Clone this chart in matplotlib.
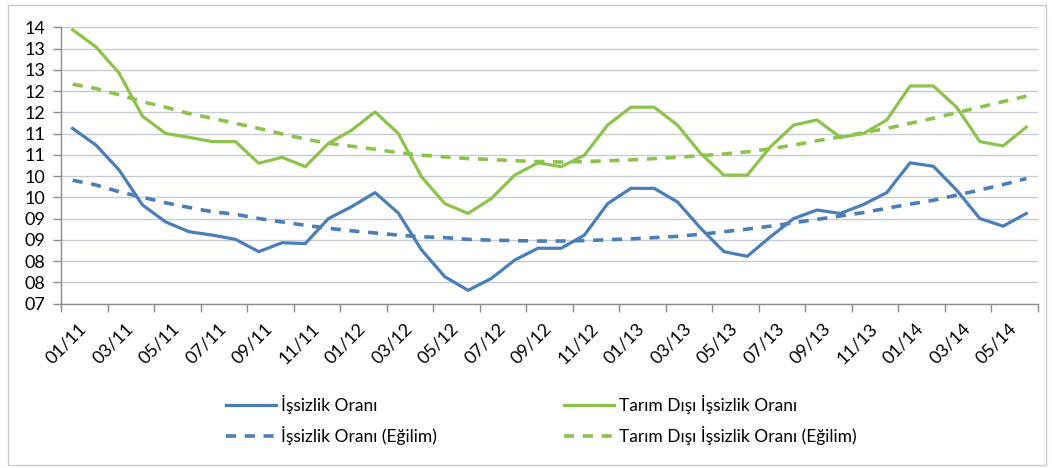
import matplotlib
matplotlib.use("Agg")
import matplotlib.pyplot as plt
from matplotlib.patches import Rectangle
from matplotlib.lines import Line2D

plt.rcParams['font.family'] = ['Lato', 'DejaVu Sans']

# aylar: 01/11 .. 06/14
months = ['01/11', '02/11', '03/11', '04/11', '05/11', '06/11', '07/11', '08/11', '09/11', '10/11', '11/11', '12/11',
          '01/12', '02/12', '03/12', '04/12', '05/12', '06/12', '07/12', '08/12', '09/12', '10/12', '11/12', '12/12',
          '01/13', '02/13', '03/13', '04/13', '05/13', '06/13', '07/13', '08/13', '09/13', '10/13', '11/13', '12/13',
          '01/14', '02/14', '03/14', '04/14', '05/14', '06/14']

issizlik = [11.12, 10.73, 10.14, 9.32, 8.92, 8.69, 8.61, 8.51, 8.22, 8.43, 8.41, 9.00,
            9.28, 9.61, 9.13, 8.26, 7.63, 7.31, 7.59, 8.02, 8.30, 8.30, 8.61, 9.35,
            9.71, 9.71, 9.39, 8.77, 8.22, 8.11, 8.57, 9.00, 9.20, 9.12, 9.33, 9.61,
            10.31, 10.23, 9.67, 9.00, 8.82, 9.12]

tarim_disi = [13.44, 13.04, 12.42, 11.41, 11.00, 10.91, 10.81, 10.81, 10.30, 10.44, 10.22, 10.77,
              11.08, 11.51, 11.00, 9.98, 9.35, 9.12, 9.47, 10.02, 10.31, 10.22, 10.49, 11.20,
              11.62, 11.62, 11.20, 10.53, 10.02, 10.02, 10.69, 11.20, 11.32, 10.91, 11.00, 11.32,
              12.12, 12.12, 11.62, 10.81, 10.71, 11.15]

issizlik_egilim = [9.90, 9.79, 9.63, 9.50, 9.37, 9.26, 9.16, 9.10, 9.00, 8.92, 8.84, 8.77,
                   8.71, 8.66, 8.61, 8.57, 8.55, 8.51, 8.49, 8.48, 8.47, 8.47, 8.48, 8.50,
                   8.52, 8.55, 8.58, 8.63, 8.69, 8.75, 8.82, 8.90, 8.98, 9.06, 9.14, 9.24,
                   9.34, 9.43, 9.55, 9.67, 9.80, 9.94]

tarim_disi_egilim = [12.16, 12.06, 11.91, 11.75, 11.62, 11.47, 11.36, 11.24, 11.12, 10.99, 10.87, 10.77,
                     10.70, 10.63, 10.55, 10.49, 10.45, 10.41, 10.39, 10.36, 10.34, 10.33, 10.34, 10.36,
                     10.38, 10.41, 10.44, 10.48, 10.52, 10.57, 10.64, 10.73, 10.83, 10.92, 11.02, 11.12,
                     11.24, 11.36, 11.49, 11.62, 11.75, 11.88]

yticks = [7.0, 7.5, 8.0, 8.5, 9.0, 9.5, 10.0, 10.5, 11.0, 11.5, 12.0, 12.5, 13.0, 13.5]
ytick_labels = ['07', '08', '08', '09', '09', '10', '10', '11', '11', '12', '12', '13', '13', '14']

mavi = '#4a7ebb'
yesil = '#8cc34b'

fig = plt.figure(figsize=(10.52, 4.68), dpi=100)
ax = fig.add_axes([61/1052, 1 - 303.5/468, (1038-61)/1052, (303.5-27.3)/468])

x = list(range(len(months)))
ax.plot(x, issizlik, color=mavi, lw=2.3, solid_joinstyle='round', zorder=4)
ax.plot(x, tarim_disi, color=yesil, lw=2.3, solid_joinstyle='round', zorder=4)
ax.plot(x, issizlik_egilim, color=mavi, lw=2.6, dashes=(2.8, 2.4), zorder=3)
ax.plot(x, tarim_disi_egilim, color=yesil, lw=2.6, dashes=(2.8, 2.4), zorder=3)

ax.set_xlim(-0.5, len(months) - 0.5)
ax.set_ylim(7.0, 13.5)

ax.set_yticks(yticks)
ax.set_yticklabels(ytick_labels, fontsize=13)
ax.yaxis.grid(True, color='#c8ccd2', lw=1.0)
ax.set_axisbelow(True)

# x ekseni: kategori sınırlarında her 2 ayda bir işaret
ax.set_xticks([i - 0.5 for i in range(0, len(months) + 1, 2)])
ax.set_xticklabels([])
ax.tick_params(axis='x', length=6, color='#8c8c8c', width=1)
ax.tick_params(axis='y', length=6, color='#8c8c8c', width=1, pad=5)
for i in range(0, len(months), 2):
    ax.annotate(months[i], xy=(i, 0), xycoords=('data', 'axes fraction'),
                xytext=(4, -12), textcoords='offset points',
                rotation=45, ha='right', va='top', rotation_mode='anchor', fontsize=13)

for s in ['top', 'right']:
    ax.spines[s].set_visible(False)
for s in ['left', 'bottom']:
    ax.spines[s].set_color('#8c8c8c')
    ax.spines[s].set_linewidth(1)

# lejant: iki ayrı sütun
h1 = [Line2D([], [], color=mavi, lw=2.3), Line2D([], [], color=mavi, lw=2.6, dashes=(2.8, 2.4))]
h2 = [Line2D([], [], color=yesil, lw=2.3), Line2D([], [], color=yesil, lw=2.6, dashes=(2.8, 2.4))]
l1 = fig.legend(h1, ['İşsizlik Oranı', 'İşsizlik Oranı (Eğilim)'], loc='center left',
                bbox_to_anchor=(210/1052, 1 - 420/468), frameon=False, fontsize=12.5,
                handlelength=2.9, handletextpad=0.3, labelspacing=0.7)
l2 = fig.legend(h2, ['Tarım Dışı İşsizlik Oranı', 'Tarım Dışı İşsizlik Oranı (Eğilim)'], loc='center left',
                bbox_to_anchor=(548/1052, 1 - 420/468), frameon=False, fontsize=12.5,
                handlelength=2.9, handletextpad=0.3, labelspacing=0.7)

fig.patches.append(Rectangle((8/1052, 1 - 465/468), 1038/1052, 460/468, transform=fig.transFigure,
                             fill=False, edgecolor='#c4ccd6', lw=1))

fig.savefig('out.png', dpi=100)
